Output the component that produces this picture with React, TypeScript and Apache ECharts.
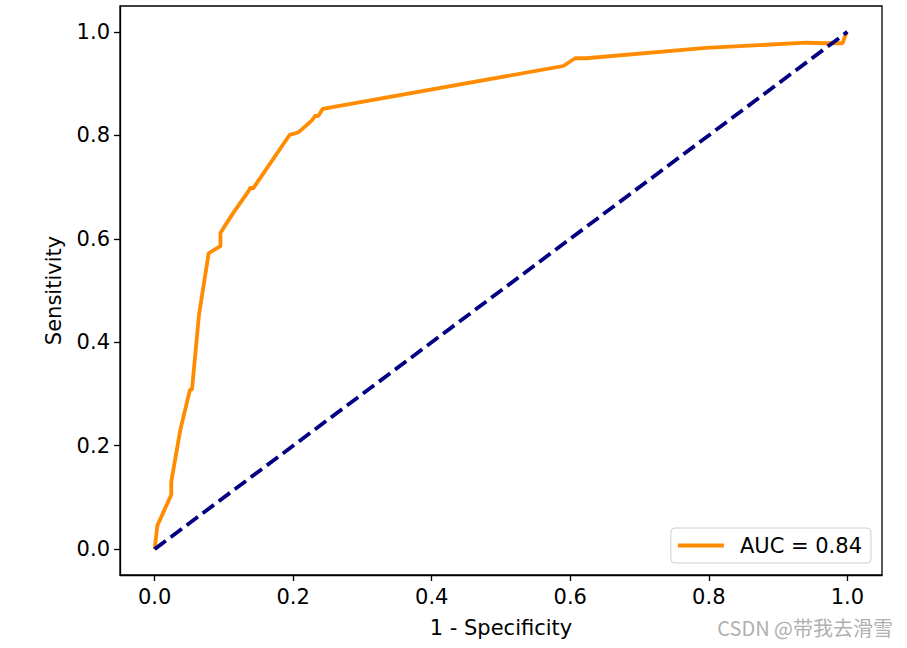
import React, { useEffect, useRef } from "react";
import * as echarts from "echarts";

const fpr = [0, 0.004, 0.024, 0.024, 0.037, 0.051, 0.054, 0.064, 0.078, 0.095, 0.095, 0.1, 0.114, 0.136, 0.138, 0.142, 0.195, 0.208, 0.227, 0.232, 0.236, 0.2425, 0.59, 0.607, 0.623, 0.796, 0.94, 0.969, 0.993, 0.999, 1.0];
const tpr = [0, 0.046, 0.105, 0.13, 0.23, 0.308, 0.309, 0.453, 0.572, 0.586, 0.611, 0.622, 0.651, 0.693, 0.699, 0.697, 0.801, 0.806, 0.829, 0.838, 0.837, 0.851, 0.934, 0.949, 0.949, 0.969, 0.979, 0.978, 0.978, 1.0, 1.0];
const diagX = [0, 1];
const diagY = [0, 1];
const tickValues = [0, 0.2, 0.4, 0.6, 0.8, 1.0];
const legendLabel = "AUC = 0.84";
const xTitle = "1 - Specificity";
const yTitle = "Sensitivity";
const watermark = "CSDN @带我去滑雪";

const FONT = "DejaVu Sans";
const FS = 21;

export default function App() {
  const ref = useRef<HTMLDivElement>(null);
  useEffect(() => {
    if (!ref.current) return;
    const chart = echarts.init(ref.current, null, { renderer: "svg" });
    const axisCommon = {
      type: "value",
      min: -0.05,
      max: 1.05,
      axisLine: { show: true, onZero: false, lineStyle: { color: "#000", width: 1.3 } },
      axisTick: { show: true, customValues: tickValues, length: 6, lineStyle: { color: "#000", width: 1.3 } },
      splitLine: { show: false },
      axisLabel: {
        customValues: tickValues,
        formatter: (v: number) => v.toFixed(1),
        color: "#000",
        fontSize: FS,
        fontFamily: FONT,
      },
      nameLocation: "middle",
      nameTextStyle: { color: "#000", fontSize: FS, fontFamily: FONT },
    };
    chart.setOption({
      animation: false,
      backgroundColor: "#fff",
      grid: { left: 120, right: 25, top: 6, bottom: 73, show: true, borderColor: "#000", borderWidth: 1.3, containLabel: false },
      xAxis: { ...axisCommon, name: xTitle, nameGap: 42, axisLabel: { ...axisCommon.axisLabel, margin: 11 } },
      yAxis: { ...axisCommon, name: yTitle, nameGap: 56, axisLabel: { ...axisCommon.axisLabel, margin: 10 } },
      legend: {
        data: [legendLabel],
        right: 36,
        bottom: 85,
        icon: "rect",
        itemWidth: 46,
        itemHeight: 3.8,
        padding: [7, 9, 7, 7],
        borderColor: "#d0d0d0",
        borderWidth: 1,
        borderRadius: 4,
        textStyle: { fontSize: FS, fontFamily: FONT, color: "#000", padding: [0, 0, 0, 11] },
      },
      series: [
        {
          type: "line",
          name: legendLabel,
          data: fpr.map((x, i) => [x, tpr[i]]),
          showSymbol: false,
          symbol: "none",
          lineStyle: { color: "#FF8C00", width: 3.8 },
          itemStyle: { color: "#FF8C00" },
          z: 2,
        },
        {
          type: "line",
          name: "diag",
          data: diagX.map((x, i) => [x, diagY[i]]),
          showSymbol: false,
          symbol: "none",
          lineStyle: { color: "#000080", width: 3.8, type: [14, 6] },
          itemStyle: { color: "#000080" },
          z: 3,
        },
      ],
      graphic: [
        {
          type: "text",
          right: 14,
          top: 617,
          style: { text: watermark, fill: "#b0b0b0", fontSize: 20, fontFamily: "Noto Sans CJK SC" },
        },
      ],
    });
    return () => chart.dispose();
  }, []);
  return <div ref={ref} style={{ position: "fixed", left: 0, top: 0, width: 907, height: 648 }} />;
}
